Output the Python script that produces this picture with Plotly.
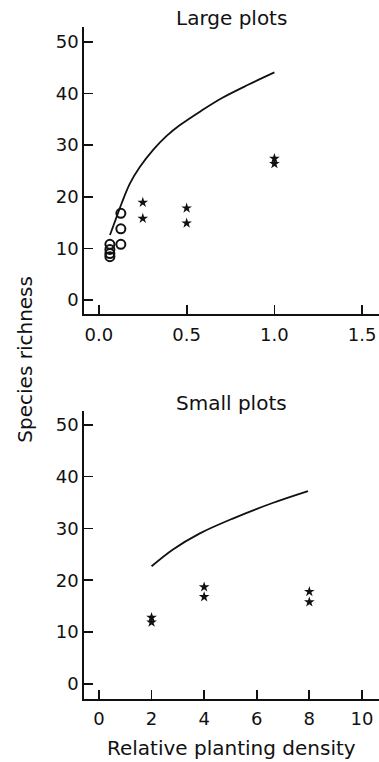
import plotly.graph_objects as go
from plotly.subplots import make_subplots

# ---- Large plots (top panel) ----
large_circle_x = [0.0625, 0.0625, 0.0625, 0.0625, 0.125, 0.125, 0.125]
large_circle_y = [10.8, 9.8, 9.0, 8.4, 16.8, 13.8, 10.8]
large_star_x = [0.25, 0.25, 0.5, 0.5, 1.0, 1.0]
large_star_y = [18.9, 15.8, 17.8, 14.9, 27.4, 26.4]
large_curve_x = [0.063, 0.101, 0.129, 0.177, 0.234, 0.309, 0.386, 0.462, 0.58, 0.699, 0.85, 1.0]
large_curve_y = [12.6, 16.1, 18.7, 22.6, 25.8, 29.1, 31.8, 33.9, 36.6, 39.1, 41.7, 44.1]
large_xticks = [0.0, 0.5, 1.0, 1.5]

# ---- Small plots (bottom panel) ----
small_star_x = [2, 2, 4, 4, 8, 8]
small_star_y = [12.8, 11.9, 18.7, 16.8, 17.8, 15.8]
small_curve_x = [2.0, 2.8, 3.82, 5.09, 6.6, 7.95]
small_curve_y = [22.7, 25.9, 29.0, 31.9, 34.9, 37.2]
small_xticks = [0, 2, 4, 6, 8, 10]

yticks = [0, 10, 20, 30, 40, 50]

FONT = "DejaVu Sans"
BLACK = "#111111"

fig = make_subplots(rows=2, cols=1, vertical_spacing=0.144)

fig.add_trace(go.Scatter(x=large_curve_x, y=large_curve_y, mode="lines",
                         line=dict(color=BLACK, width=1.8, shape="spline", smoothing=1.0),
                         showlegend=False), row=1, col=1)
fig.add_trace(go.Scatter(x=large_circle_x, y=large_circle_y, mode="markers",
                         marker=dict(symbol="circle-open", size=9, color=BLACK,
                                     line=dict(width=2, color=BLACK)),
                         showlegend=False), row=1, col=1)
fig.add_trace(go.Scatter(x=large_star_x, y=large_star_y, mode="markers",
                         marker=dict(symbol="star", size=8, color=BLACK),
                         showlegend=False), row=1, col=1)

fig.add_trace(go.Scatter(x=small_curve_x, y=small_curve_y, mode="lines",
                         line=dict(color=BLACK, width=1.8, shape="spline", smoothing=1.0),
                         showlegend=False), row=2, col=1)
fig.add_trace(go.Scatter(x=small_star_x, y=small_star_y, mode="markers",
                         marker=dict(symbol="star", size=8, color=BLACK),
                         showlegend=False), row=2, col=1)

axis_common = dict(showgrid=False, zeroline=False, showline=True,
                   linecolor=BLACK, linewidth=1.8, ticks="inside",
                   ticklen=9, tickwidth=1.8, tickcolor=BLACK,
                   tickfont=dict(family=FONT, size=18, color=BLACK))

fig.update_xaxes(range=[-0.085, 1.596], tickvals=large_xticks,
                 tickformat=".1f", domain=[0, 1], ticklabelstandoff=4,
                 **axis_common, row=1, col=1)
fig.update_yaxes(range=[-2.7, 52.9], tickvals=yticks,
                 domain=[0.573, 1.0], **axis_common, row=1, col=1)
fig.update_xaxes(range=[-0.57, 10.65], tickvals=small_xticks,
                 domain=[0, 1], ticklabelstandoff=3, **axis_common, row=2, col=1)
fig.update_yaxes(range=[-2.9, 52.7], tickvals=yticks,
                 domain=[0.0, 0.429], **axis_common, row=2, col=1)

tfont = dict(family=FONT, size=20, color=BLACK)
fig.update_layout(
    width=379, height=762,
    margin=dict(l=84, r=0, t=27, b=63),
    paper_bgcolor="white", plot_bgcolor="white",
    hovermode=False,
    annotations=[
        dict(text="Large plots", x=0.5, y=1.013, xref="paper", yref="paper",
             xanchor="center", yanchor="middle", showarrow=False, font=tfont),
        dict(text="Small plots", x=0.5, y=0.4405, xref="paper", yref="paper",
             xanchor="center", yanchor="middle", showarrow=False, font=tfont),
        dict(text="Relative planting density", x=0.5, y=-0.073, xref="paper",
             yref="paper", xanchor="center", yanchor="middle",
             showarrow=False, font=tfont),
        dict(text="Species richness", x=-0.2, y=0.505, xref="paper",
             yref="paper", xanchor="center", yanchor="middle",
             textangle=-90, showarrow=False, font=tfont),
    ],
)

# Remove the browser's default 8px body margin so the figure fills the window.
fig.write_html("out.html",
               config={"displayModeBar": False, "staticPlot": True},
               post_script="document.body.style.margin='0';"
                           "document.body.style.overflow='hidden';")
